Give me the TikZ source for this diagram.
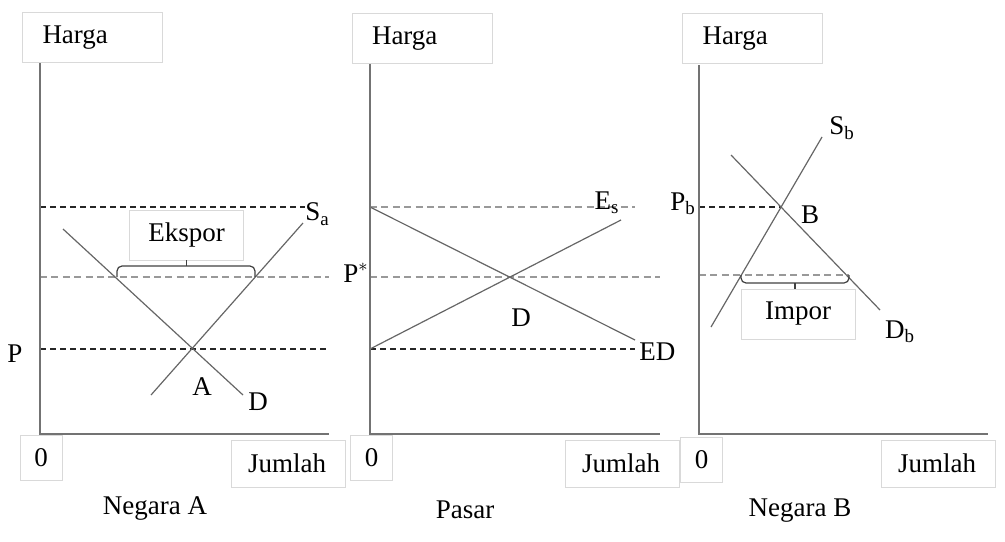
\documentclass[tikz,border=0pt]{standalone}
\usepackage{fontspec}
\setmainfont{Liberation Serif}
\usetikzlibrary{calc}

\begin{document}
\begin{tikzpicture}[x=0.5pt, y=-0.5pt,
    font=\fontsize{13.5}{16}\selectfont,
    axis/.style={line width=1pt, black!55},
    curve/.style={line width=0.6pt, black!60},
    bracket/.style={line width=0.6pt, black!75, rounded corners=2.5pt},
    dashblack/.style={line width=0.6pt, black!85, dash pattern=on 3pt off 2pt},
    dashgrey/.style={line width=1pt, black!40, dash pattern=on 3.5pt off 2.2pt},
    lbox/.style={draw=black!15, fill=white, inner sep=0pt},
    hargabox/.style={lbox, minimum width=70pt, minimum height=25pt, text width=50pt, align=left},
    jumlahbox/.style={lbox, minimum width=57pt, minimum height=23.5pt, text width=40pt, align=left},
    zerobox/.style={lbox, minimum width=21pt, minimum height=22.5pt},
    tradebox/.style={lbox, minimum width=57pt, minimum height=25pt}]
            \useasboundingbox (0,0) rectangle (1005,541);

            % Negara A
            \coordinate (oA) at (40,434);
            \coordinate (yA) at (40,63);
            \coordinate (xA) at (329,434);
            \draw[dashblack] (40,207) -- (305,207);
            \draw[dashgrey] (40,277) -- (329,277);
            \draw[dashblack] (40,349) -- (329,349);
            \coordinate (dA1) at (63,229);
            \coordinate (dA2) at (243,395);
            \coordinate (sA1) at (151,395);
            \coordinate (sA2) at (303,223);
            \draw[curve] (dA1) -- (dA2);
            \draw[curve] (sA1) -- (sA2);
            \draw[axis] (yA) -- (oA) -- (xA);
            \node (hargaA) [hargabox] at (92.5,37.5) {Harga};
            \node (nolA) [zerobox] at (41,457.5) {0};
            \node (jumlahA) [jumlahbox] at (288,463.5) {Jumlah};
            \node (eksporA) [tradebox] at (186.5,235) {Ekspor};
            \draw[bracket] (117,277) -- (117,266) -- (255,266) -- (255,277);
            \draw[bracket] (eksporA.south) -- (eksporA.south |- 0,266);
            \node (labSA) [anchor=west, inner sep=0pt] at (305,214) {S\textsubscript{a}};
            \node (labA) at (202,387) {A};
            \node (labDA) at (258,402) {D};
            \node (labPA) at (15,354) {P};
            \node (negA) at (155,508) {Negara A};

            % Pasar
            \coordinate (oM) at (370,434);
            \coordinate (yM) at (370,63);
            \coordinate (xM) at (660,434);
            \draw[dashgrey] (370,207) -- (635,207);
            \draw[dashgrey] (370,277) -- (660,277);
            \draw[dashblack] (370,349) -- (635,349);
            \coordinate (es1) at (370,349);
            \coordinate (es2) at (621,220);
            \coordinate (ed1) at (370,207);
            \coordinate (ed2) at (635,340);
            \draw[curve] (es1) -- (es2);
            \draw[curve] (ed1) -- (ed2);
            \draw[axis] (yM) -- (oM) -- (xM);
            \node (hargaM) [hargabox] at (422,38.5) {Harga};
            \node (nolM) [zerobox] at (371.5,457.5) {0};
            \node (jumlahM) [jumlahbox] at (622,463.5) {Jumlah};
            \node (labES) at (607,203) {E\textsubscript{s}};
            \node (labED) [anchor=west, inner sep=0pt] at (639,352) {ED};
            \node (labPs) at (356,273) {P$^*$};
            \node (labDM) at (521,318) {D};
            \node (pasar) at (465,510) {Pasar};

            % Negara B
            \coordinate (oB) at (699,434);
            \coordinate (yB) at (699,65);
            \coordinate (xB) at (988,434);
            \draw[dashblack] (699,207) -- (781,207);
            \draw[dashgrey] (699,275) -- (849,275);
            \coordinate (sB1) at (711,327);
            \coordinate (sB2) at (822,137);
            \coordinate (dB1) at (731,155);
            \coordinate (dB2) at (880,310);
            \draw[curve] (sB1) -- (sB2);
            \draw[curve] (dB1) -- (dB2);
            \draw[axis] (yB) -- (oB) -- (xB);
            \node (hargaB) [hargabox] at (752.5,38.5) {Harga};
            \node (nolB) [zerobox] at (701.5,460) {0};
            \node (jumlahB) [jumlahbox] at (938,463.5) {Jumlah};
            \node (imporB) [tradebox] at (798,314) {Impor};
            \draw[bracket] (741,275) -- (741,283) -- (849,283) -- (849,275);
            \coordinate (tickB) at (795,283);
            \draw[bracket] (tickB) -- (tickB |- imporB.north);
            \node (labSB) at (842,128) {S\textsubscript{b}};
            \node (labB) at (810,215) {B};
            \node (labPB) at (683,204) {P\textsubscript{b}};
            \node (labDB) at (900,332) {D\textsubscript{b}};
            \node (negB) at (800,511) {Negara B};
        \end{tikzpicture}
\end{document}
